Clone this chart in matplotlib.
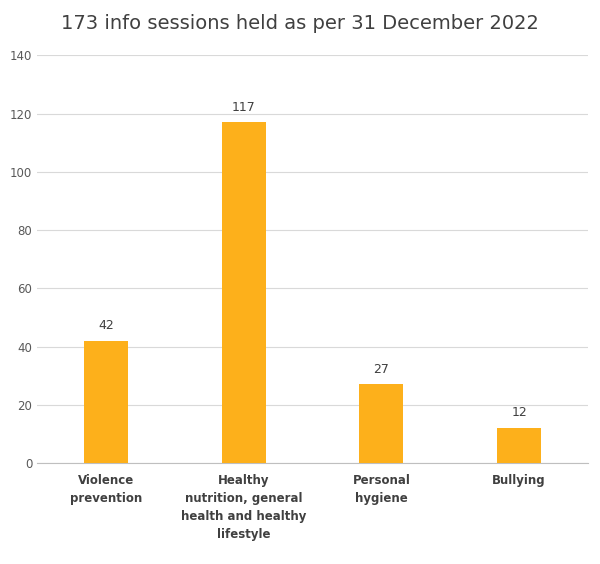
import matplotlib
matplotlib.use("Agg")
from matplotlib import pyplot as plt

categories = ["Violence\nprevention",
              "Healthy\nnutrition, general\nhealth and healthy\nlifestyle",
              "Personal\nhygiene",
              "Bullying"]
values = [42, 117, 27, 12]

fig = plt.figure(figsize=(6, 5.64), dpi=100)
ax = fig.add_axes([0.062, 0.179, 0.918, 0.723])

x = range(len(values))
bars = ax.bar(x, values, width=0.32, color="#FDB01B", zorder=3)
for b, v in zip(bars, values):
    ax.text(b.get_x() + b.get_width() / 2, v + 3, str(v), ha="center",
            va="bottom", fontsize=9, color="#404040")

ax.set_xlim(-0.5, 3.5)
ax.set_ylim(0, 140)
ax.set_yticks(range(0, 141, 20))
ax.set_xticks(list(x))
ax.set_xticklabels(categories, fontsize=8.5, fontweight="bold", color="#404040",
                   va="top", linespacing=1.5)
ax.tick_params(axis="y", labelsize=8.5, colors="#595959", length=0)
ax.tick_params(axis="x", length=0, pad=8)
ax.grid(axis="y", color="#D9D9D9", linewidth=0.8, zorder=0)
for s in ["top", "right", "left"]:
    ax.spines[s].set_visible(False)
ax.spines["bottom"].set_color("#BFBFBF")

fig.suptitle("173 info sessions held as per 31 December 2022", fontsize=14,
             color="#404040", y=0.975)
fig.savefig("out.png", dpi=100)
